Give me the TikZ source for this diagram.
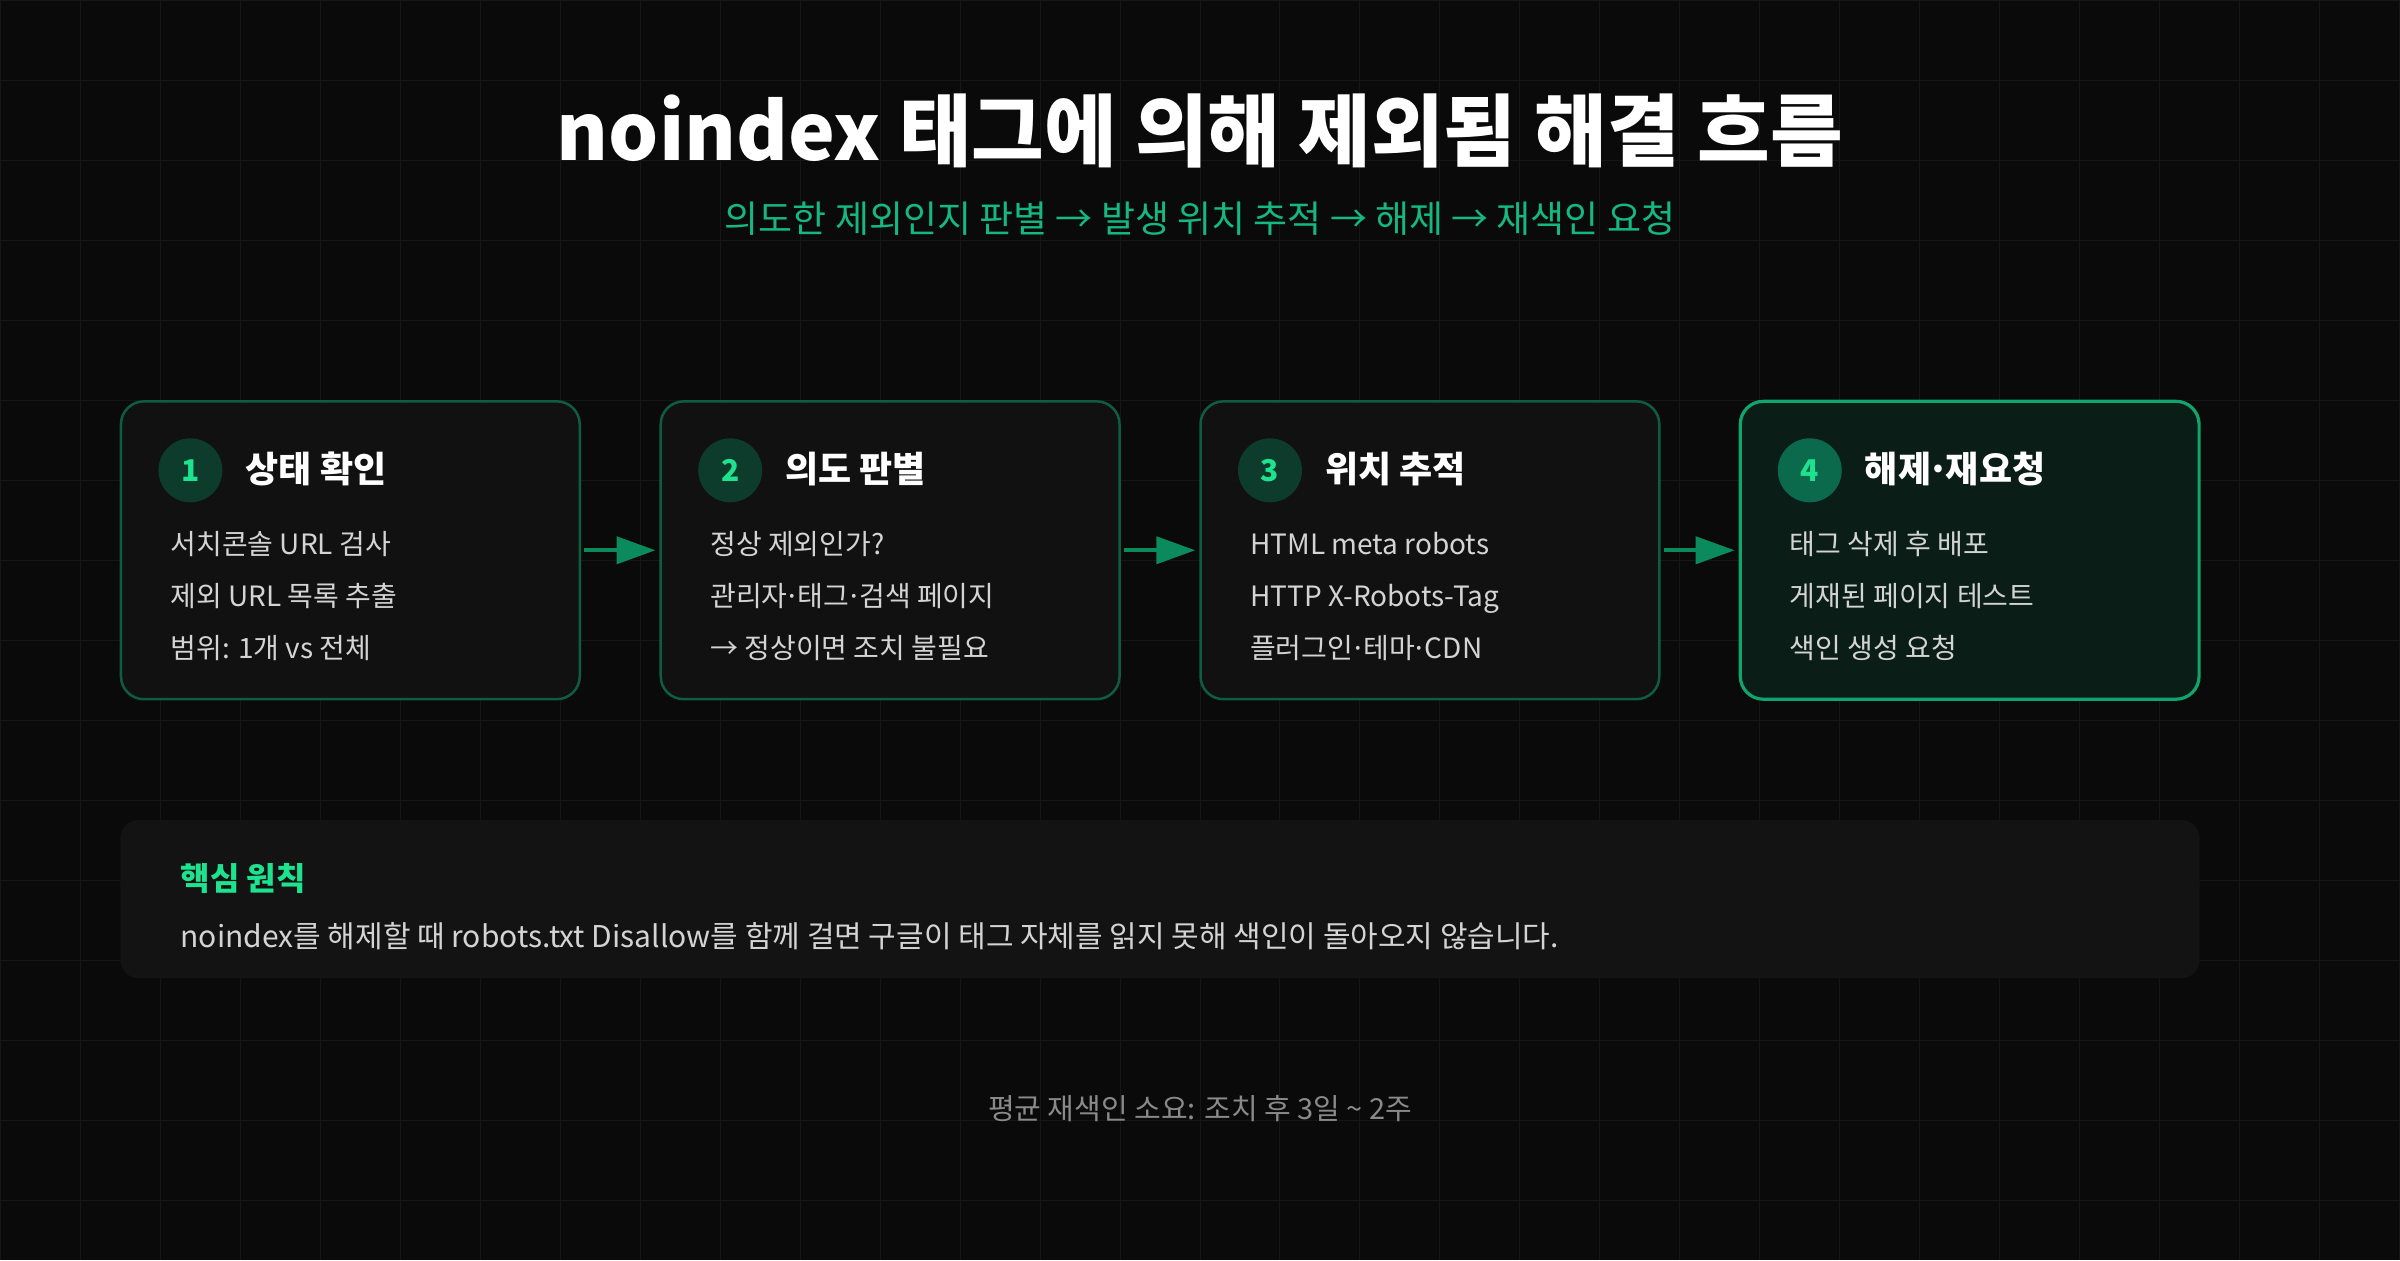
\documentclass[tikz,border=0pt]{standalone}
\usepackage{fontspec}
\setmainfont{Noto Sans CJK KR}
\usetikzlibrary{arrows.meta}

\definecolor{bgC}{HTML}{0A0A0A}
\definecolor{gridC}{HTML}{161616}
\definecolor{boxC}{HTML}{121212}
\definecolor{edgeC}{HTML}{0F5D41}
\definecolor{hiBoxC}{HTML}{0A1F19}
\definecolor{hiEdgeC}{HTML}{10A56E}
\definecolor{dotC}{HTML}{0D3B2C}
\definecolor{hiDotC}{HTML}{0C6A4C}
\definecolor{numC}{HTML}{1DE38F}
\definecolor{arrC}{HTML}{0B8A5E}
\definecolor{subC}{HTML}{14B880}
\definecolor{bodyC}{HTML}{D4D4D4}
\definecolor{coreC}{HTML}{131313}
\definecolor{footC}{HTML}{8A8A8A}

\newcommand{\fs}[1]{\fontsize{#1}{#1}\selectfont}
\newcommand{\md}{\kern-0.1em·\kern-0.1em}

\begin{document}
\begin{tikzpicture}[x=1pt,y=-1pt,
        boxND/.style={rectangle,
                      rounded corners=23pt,
                      draw=edgeC,
                      line width=2.5pt,
                      fill=boxC,
                      fill opacity=0.92,
                      minimum width=459pt,
                      minimum height=298pt},
        hiND/.style={boxND,
                     draw=hiEdgeC,
                     line width=3.2pt,
                     fill=hiBoxC},
        numND/.style={circle,
                      fill=dotC,
                      minimum size=64pt,
                      inner sep=0pt,
                      text=numC,
                      font=\fs{30}\bfseries},
        hdND/.style={anchor=base west,
                     inner sep=0pt,
                     text=white,
                     font=\fs{36}\bfseries},
        txtND/.style={anchor=base west,
                      inner sep=0pt,
                      text=bodyC,
                      font=\fs{28}},
        flowLN/.style={-{Triangle[length=39pt,width=27pt]},
                       draw=arrC,
                       line width=4pt,
                       shorten <=3pt,
                       shorten >=4pt}]
        % background and grid
        \fill[bgC] (0,0) rectangle (2400,1260);
        \draw[gridC, line width=1pt, step=80pt] (0,0) grid (2400,1260);
        \useasboundingbox (0,0) rectangle (2400,1260);

        % title
        \node[anchor=base, inner sep=0pt, text=white, font=\fs{79}\bfseries](title) at (1200,160)
            {noindex 태그에 의해 제외됨 해결 흐름};
        \node[anchor=base, inner sep=0pt, text=subC, font=\fs{37}](sub) at (1200,232)
            {의도한 제외인지 판별 → 발생 위치 추적 → 해제 → 재색인 요청};

        % steps
        \node[boxND](S1) at (350,550)  {};
        \node[boxND](S2) at (890,550)  {};
        \node[boxND](S3) at (1430,550) {};
        \node[hiND](S4)  at (1970,550) {};

        \node[numND](N1) at (190,470)  {1};
        \node[numND](N2) at (730,470)  {2};
        \node[numND](N3) at (1270,470) {3};
        \node[numND, fill=hiDotC](N4) at (1810,470) {4};

        \node[hdND](H1) at (245,482)  {상태 확인};
        \node[hdND](H2) at (785,482)  {의도 판별};
        \node[hdND](H3) at (1325,482) {위치 추적};
        \node[hdND](H4) at (1865,482) {해제\md 재요청};

        \node[txtND](T11) at (170,554) {서치콘솔 URL 검사};
        \node[txtND](T12) at (170,606) {제외 URL 목록 추출};
        \node[txtND](T13) at (170,658) {범위: 1개 vs 전체};

        \node[txtND](T21) at (710,554) {정상 제외인가?};
        \node[txtND](T22) at (710,606) {관리자\md 태그\md 검색 페이지};
        \node[txtND](T23) at (710,658) {→ 정상이면 조치 불필요};

        \node[txtND](T31) at (1250,554) {HTML meta robots};
        \node[txtND](T32) at (1250,606) {HTTP X-Robots-Tag};
        \node[txtND](T33) at (1250,658) {플러그인\md 테마\md CDN};

        \node[txtND](T41) at (1790,554) {태그 삭제 후 배포};
        \node[txtND](T42) at (1790,606) {게재된 페이지 테스트};
        \node[txtND](T43) at (1790,658) {색인 생성 요청};

        \path
            (S1) edge [flowLN] (S2)
            (S2) edge [flowLN] (S3)
            (S3) edge [flowLN] (S4)
            ;

        % core rule
        \node[rectangle, rounded corners=18pt, fill=coreC, minimum width=2080pt,
              minimum height=158pt](core) at (1160,899) {};
        \node[anchor=base west, inner sep=0pt, text=numC, font=\fs{32}\bfseries](coreH) at (180,890)
            {핵심 원칙};
        \node[anchor=base west, inner sep=0pt, text=bodyC, font=\fs{30}](coreT) at (180,947)
            {noindex를 해제할 때 robots.txt Disallow를 함께 걸면 구글이 태그 자체를 읽지 못해 색인이 돌아오지 않습니다.};

        % footer
        \node[anchor=base, inner sep=0pt, text=footC, font=\fs{29}](foot) at (1200,1119)
            {평균 재색인 소요: 조치 후 3일 \textasciitilde{} 2주};
    \end{tikzpicture}
\end{document}
